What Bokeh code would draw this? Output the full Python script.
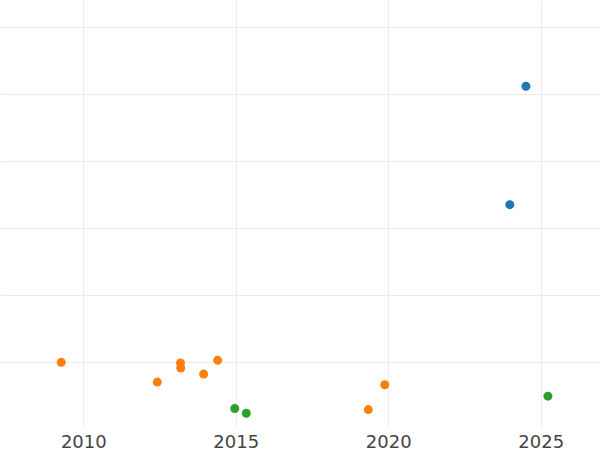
from bokeh.plotting import figure
from bokeh.models import FixedTicker, Range1d, ColumnDataSource
from bokeh.embed import file_html
from bokeh.resources import INLINE

# Series data (year, value)
blue_x = [2024.50, 2023.97]
blue_y = [102.5, 67.1]
orange_x = [2009.26, 2012.41, 2013.17, 2013.18, 2013.93, 2014.39, 2019.33, 2019.87]
orange_y = [20.0, 14.1, 19.8, 18.3, 16.5, 20.6, 5.9, 13.3]
green_x = [2014.95, 2015.33, 2025.22]
green_y = [6.2, 4.8, 9.9]

x_ticks = [2010, 2015, 2020, 2025]
y_ticks = [20, 40, 60, 80, 100, 120]

p = figure(width=600, height=450, output_backend="svg", toolbar_location=None,
           x_range=Range1d(2007.268, 2026.945), y_range=Range1d(0.54, 128.1),
           min_border_left=0, min_border_right=0, min_border_top=0, min_border_bottom=0)
p.outline_line_color = None
p.background_fill_color = "white"
p.border_fill_color = "white"

p.xaxis.ticker = FixedTicker(ticks=x_ticks)
p.yaxis.ticker = FixedTicker(ticks=y_ticks)
p.yaxis.visible = False
p.xaxis.axis_line_color = None
p.xaxis.major_tick_line_color = None
p.xaxis.minor_tick_line_color = None
p.xaxis.major_tick_out = 0
p.xaxis.major_tick_in = 0
p.xaxis.minor_tick_out = 0
p.xaxis.major_label_standoff = 7
p.xaxis.major_label_text_font = "DejaVu Sans"
p.xaxis.major_label_text_font_size = "18px"
p.xaxis.major_label_text_color = "#444444"

p.xgrid.grid_line_color = "#ebebeb"
p.ygrid.grid_line_color = "#ebebeb"
p.xgrid.grid_line_width = 1
p.ygrid.grid_line_width = 1

for xs, ys, c in [(blue_x, blue_y, "#1f77b4"), (orange_x, orange_y, "#ff7f0e"), (green_x, green_y, "#2ca02c")]:
    src = ColumnDataSource(dict(x=xs, y=ys))
    p.scatter("x", "y", source=src, size=9, fill_color=c, line_color=c, line_width=0)

open("out.html", "w").write(file_html(p, INLINE))
